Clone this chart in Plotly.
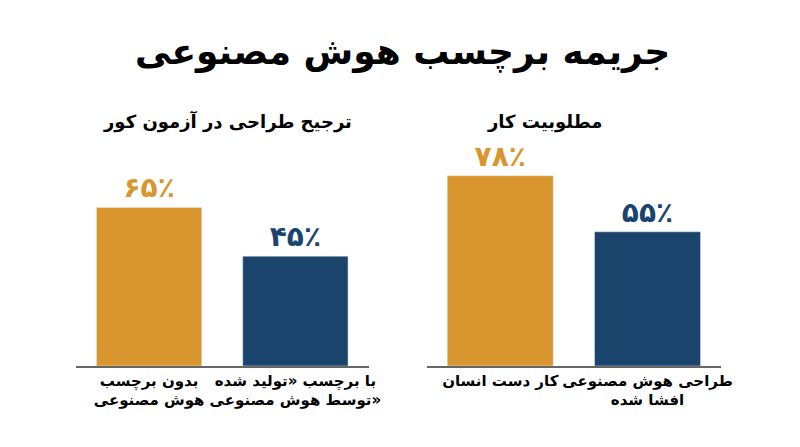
import plotly.graph_objects as go
from plotly.subplots import make_subplots

title = "<b>جریمه برچسب هوش مصنوعی</b>"
left_title = "ترجیح طراحی در آزمون کور"
right_title = "مطلوبیت کار"
left_cats = ["<b>بدون برچسب<br>هوش مصنوعی</b>", "<b>با برچسب «تولید شده<br>توسط هوش مصنوعی»</b>"]
left_vals = [65, 45]
right_cats = ["<b>کار دست انسان</b><br> ", "<b>طراحی هوش مصنوعی<br>افشا شده</b>"]
right_vals = [78, 55]
persian_digits = str.maketrans("0123456789", "۰۱۲۳۴۵۶۷۸۹")
colors = ["#D9962E", "#1B446D"]
FONT = "DejaVu Sans"

fig = make_subplots(rows=1, cols=2)
for col, cats, vals in [(1, left_cats, left_vals), (2, right_cats, right_vals)]:
    fig.add_trace(go.Bar(
        x=cats, y=vals, marker_color=colors, width=0.72,
        text=["<b>" + f"{v}٪".translate(persian_digits) + "</b>" for v in vals],
        textposition="outside", cliponaxis=False,
        textfont=dict(size=28, color=colors, family=FONT),
        showlegend=False,
    ), row=1, col=col)

fig.update_layout(
    width=800, height=447, plot_bgcolor="white", paper_bgcolor="white",
    margin=dict(l=0, r=0, t=0, b=0),
    font=dict(family=FONT, color="black"),
    xaxis=dict(domain=[69 / 800, 366 / 800]),
    xaxis2=dict(domain=[425 / 800, 724 / 800]),
    annotations=[
        dict(text=title, x=0.5, xanchor="center", y=(447 - 44) / 447, xref="paper", yref="paper",
             showarrow=False, font=dict(size=36, family=FONT), yanchor="middle"),
        dict(text="<b>" + left_title + "</b>", x=223 / 800, xanchor="center", y=(447 - 114) / 447,
             xref="paper", yref="paper", showarrow=False, font=dict(size=18, family=FONT), yanchor="middle"),
        dict(text="<b>" + right_title + "</b>", x=545 / 800, xanchor="center", y=(447 - 114) / 447,
             xref="paper", yref="paper", showarrow=False, font=dict(size=18, family=FONT), yanchor="middle"),
    ],
)
for ax in ["xaxis", "xaxis2"]:
    fig.layout[ax].update(showline=True, linecolor="#666666", linewidth=1.5, ticks="",
                          tickfont=dict(size=15, color="black", family=FONT), range=[-0.5, 1.5])
for ax in ["yaxis", "yaxis2"]:
    fig.layout[ax].update(domain=[89 / 447, 333 / 447], range=[0, 100], visible=False)

fig.write_html("out.html")
